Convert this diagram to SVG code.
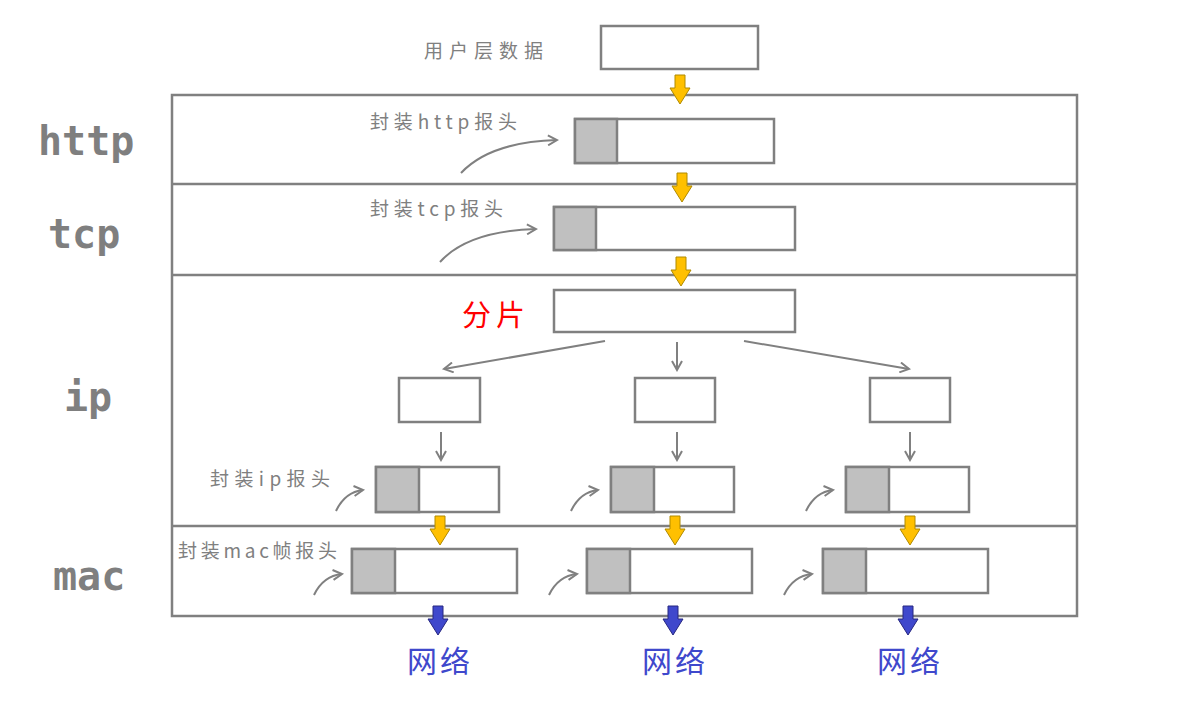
<svg xmlns="http://www.w3.org/2000/svg" width="1193" height="705" viewBox="0 0 1193 705">
<style>
.frame{fill:none;stroke:#808080;stroke-width:2.5}
.box{fill:#fff;stroke:#808080;stroke-width:2.5}
.hdr{fill:#c0c0c0;stroke:#808080;stroke-width:2.5}
.ln{fill:none;stroke:#808080;stroke-width:2;marker-end:url(#open)}
.big{font-family:"DejaVu Sans Mono",monospace;font-weight:bold;font-size:40px;fill:#7f7f7f}
.lbl{font-family:"Noto Sans CJK SC",sans-serif;font-size:19px;fill:#808080}
.ya{fill:#FFC000;stroke:#b08a00;stroke-width:1}
.ba{fill:#3F48CC;stroke:#262680;stroke-width:1}
.net{font-family:"Noto Sans CJK SC",sans-serif;font-size:30px;fill:#3F48CC}
</style>
<defs>
<marker id="open" viewBox="0 0 12 12" refX="10" refY="6" markerWidth="12" markerHeight="12" markerUnits="userSpaceOnUse" orient="auto">
<path d="M1,1 L10,6 L1,11" fill="none" stroke="#808080" stroke-width="2"/>
</marker>
<path id="yarrow" d="M-5,0 L5,0 L5,13 L10,13 L0,29 L-10,13 L-5,13 Z"/>
</defs>
<rect width="1193" height="705" fill="#fff"/>

<g id="layers">
<rect class="frame" x="172" y="95" width="905" height="521"/>
<line x1="172" y1="184" x2="1077" y2="184" stroke="#808080" stroke-width="2.5"/>
<line x1="172" y1="275" x2="1077" y2="275" stroke="#808080" stroke-width="2.5"/>
<line x1="172" y1="526" x2="1077" y2="526" stroke="#808080" stroke-width="2.5"/>
<text class="big" x="38" y="155">http</text>
<text class="big" x="48" y="248">tcp</text>
<text class="big" x="64" y="411">ip</text>
<text class="big" x="53" y="590">mac</text>
</g>

<g id="user-data">
<text class="lbl" x="424" y="58" textLength="119" lengthAdjust="spacing">用户层数据</text>
<rect class="box" x="601" y="26" width="157" height="43"/>
</g>

<g id="http-node">
<text class="lbl" x="370" y="129" textLength="147" lengthAdjust="spacing">封装http报头</text>
<rect class="box" x="575" y="119" width="199" height="44"/>
<rect class="hdr" x="575" y="119" width="42" height="44"/>
</g>

<g id="tcp-node">
<text class="lbl" x="370" y="216" textLength="133" lengthAdjust="spacing">封装tcp报头</text>
<rect class="box" x="554" y="207" width="241" height="43"/>
<rect class="hdr" x="554" y="207" width="42" height="43"/>
</g>

<g id="fragment-node">
<text x="462" y="326" font-family="Noto Sans CJK SC,sans-serif" font-size="29" fill="#FF0000" textLength="63" lengthAdjust="spacing">分片</text>
<rect class="box" x="554" y="290" width="241" height="42"/>
</g>

<g id="fragments">
<rect class="box" x="399" y="378" width="81" height="44"/>
<rect class="box" x="635" y="378" width="80" height="44"/>
<rect class="box" x="870" y="378" width="80" height="44"/>
</g>

<g id="ip-nodes">
<text class="lbl" x="210" y="486" textLength="120" lengthAdjust="spacing">封装ip报头</text>
<rect class="box" x="376" y="467" width="123" height="45"/>
<rect class="hdr" x="376" y="467" width="43" height="45"/>
<rect class="box" x="611" y="467" width="123" height="45"/>
<rect class="hdr" x="611" y="467" width="43" height="45"/>
<rect class="box" x="846" y="467" width="123" height="45"/>
<rect class="hdr" x="846" y="467" width="43" height="45"/>
</g>

<g id="mac-nodes">
<text class="lbl" x="178" y="558" textLength="159" lengthAdjust="spacing">封装mac帧报头</text>
<rect class="box" x="352" y="549" width="165" height="44"/>
<rect class="hdr" x="352" y="549" width="43" height="44"/>
<rect class="box" x="587" y="549" width="165" height="44"/>
<rect class="hdr" x="587" y="549" width="43" height="44"/>
<rect class="box" x="823" y="549" width="165" height="44"/>
<rect class="hdr" x="823" y="549" width="43" height="44"/>
</g>

<g id="network">
<text class="net" x="407" y="672" textLength="63" lengthAdjust="spacing">网络</text>
<text class="net" x="642" y="672" textLength="63" lengthAdjust="spacing">网络</text>
<text class="net" x="877" y="672" textLength="63" lengthAdjust="spacing">网络</text>
</g>

<g id="connectors">
<use href="#yarrow" class="ya" x="680" y="75"/>
<use href="#yarrow" class="ya" x="682" y="173"/>
<use href="#yarrow" class="ya" x="681" y="257"/>
<use href="#yarrow" class="ya" x="440" y="516"/>
<use href="#yarrow" class="ya" x="675" y="516"/>
<use href="#yarrow" class="ya" x="910" y="516"/>
<use href="#yarrow" class="ba" x="438" y="606"/>
<use href="#yarrow" class="ba" x="673" y="606"/>
<use href="#yarrow" class="ba" x="908" y="606"/>

<path class="ln" d="M461,173 Q490,142 557,140"/>
<path class="ln" d="M440,262 Q468,231 536,229"/>

<line class="ln" x1="605" y1="341" x2="444" y2="369"/>
<line class="ln" x1="677" y1="342" x2="677" y2="370"/>
<line class="ln" x1="744" y1="341" x2="909" y2="369"/>

<line class="ln" x1="441" y1="432" x2="441" y2="460"/>
<line class="ln" x1="677" y1="432" x2="677" y2="460"/>
<line class="ln" x1="910" y1="432" x2="910" y2="460"/>

<path class="ln" d="M336,511 Q345,492 363,490"/>
<path class="ln" d="M571,511 Q580,492 598,490"/>
<path class="ln" d="M806,511 Q815,492 833,490"/>
<path class="ln" d="M314,595 Q323,576 342,574"/>
<path class="ln" d="M549,595 Q558,576 577,574"/>
<path class="ln" d="M784,595 Q793,576 812,574"/>
</g>
</svg>
